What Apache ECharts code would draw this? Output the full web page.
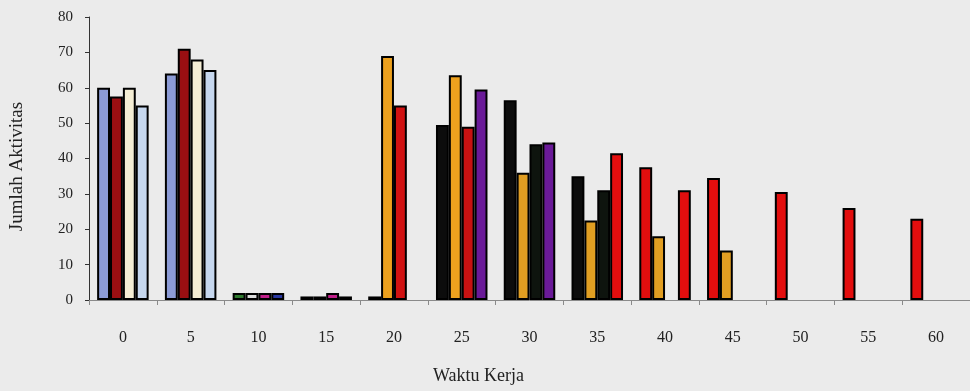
<!DOCTYPE html>
<html>
<head>
<meta charset="utf-8">
<script src="https://cdn.jsdelivr.net/npm/echarts@6/dist/echarts.min.js"></script>
<style>
  html, body { margin: 0; padding: 0; background: #ebebeb; }
  #chart { width: 970px; height: 391px; }
</style>
</head>
<body>
<div id="chart"></div>
<script>
// Working time (minutes) on the category axis
const categories = ['0', '5', '10', '15', '20', '25', '30', '35', '40', '45', '50', '55', '60'];

// Activity counts, one array per bar slot within each time group
const slot1 = [60, 64, 2, 1, 1, 49.5, 56.5, 35, 37.5, 34.5, 30.5, 26, 23];
const slot2 = [57.5, 71, 2, 1, 69, 63.5, 36, 22.5, 18, 14, null, null, null];
const slot3 = [60, 68, 2, 2, 55, 49, 44, 31, null, null, null, null, null];
const slot4 = [55, 65, 2, 1, null, 59.5, 44.5, 41.5, 31, null, null, null, null];

// Fill colour of each bar, per slot and per group
const slot1Colors = ['#8c9bd6', '#8c9bd6', '#2f7a2f', '#151515', '#151515', '#0c0c0c', '#0c0c0c', '#0c0c0c', '#e30e0e', '#e30e0e', '#e30e0e', '#e30e0e', '#e30e0e'];
const slot2Colors = ['#9a0f12', '#9a0f12', '#dcdcdc', '#1c1c1c', '#eda11e', '#eda11e', '#e19e22', '#e19e22', '#e19e22', '#e19e22', '#e19e22', '#e19e22', '#e19e22'];
const slot3Colors = ['#f4edd4', '#f4edd4', '#c0208a', '#c0208a', '#d01212', '#c81212', '#0e140e', '#0e140e', '#e30e0e', '#e30e0e', '#e30e0e', '#e30e0e', '#e30e0e'];
const slot4Colors = ['#c6d7ee', '#c6d7ee', '#2a38a0', '#101010', '#101010', '#6a1a98', '#6a1a98', '#e30e0e', '#e30e0e', '#e30e0e', '#e30e0e', '#e30e0e', '#e30e0e'];

const serif = '"Liberation Serif", "DejaVu Serif", serif';

function buildSeries(values, colors) {
  return {
    type: 'bar',
    barGap: '0%',
    barCategoryGap: '24%',
    data: values.map((v, i) => ({ value: v, itemStyle: { color: colors[i] } })),
    itemStyle: { borderColor: '#000', borderWidth: 2 },
    emphasis: { disabled: true }
  };
}

const chart = echarts.init(document.getElementById('chart'));
chart.setOption({
  backgroundColor: '#ebebeb',
  animation: false,
  grid: { left: 89, right: -7, top: 17, bottom: 91, containLabel: false },
  xAxis: {
    type: 'category',
    data: categories,
    axisLine: { lineStyle: { color: '#8a8a8a', width: 1 } },
    axisTick: { show: true, length: 5, lineStyle: { color: '#8a8a8a' } },
    axisLabel: { color: '#222', fontFamily: serif, fontSize: 16, margin: 30 }
  },
  yAxis: {
    type: 'value',
    min: 0,
    max: 80,
    interval: 10,
    name: 'Jumlah Aktivitas',
    nameLocation: 'middle',
    nameGap: 62,
    nameTextStyle: { color: '#222', fontFamily: serif, fontSize: 19, padding: [0, 16, 0, 0] },
    axisLine: { show: true, lineStyle: { color: '#333', width: 1 } },
    axisTick: { show: true, length: 4, lineStyle: { color: '#333' } },
    axisLabel: { color: '#222', fontFamily: serif, fontSize: 15, margin: 16 },
    splitLine: { show: false }
  },
  graphic: [{
    type: 'text',
    left: 433,
    top: 367,
    style: { text: 'Waktu Kerja', fill: '#222', font: '18px ' + serif }
  }],
  series: [
    buildSeries(slot1, slot1Colors),
    buildSeries(slot2, slot2Colors),
    buildSeries(slot3, slot3Colors),
    buildSeries(slot4, slot4Colors)
  ]
});
</script>
</body>
</html>
